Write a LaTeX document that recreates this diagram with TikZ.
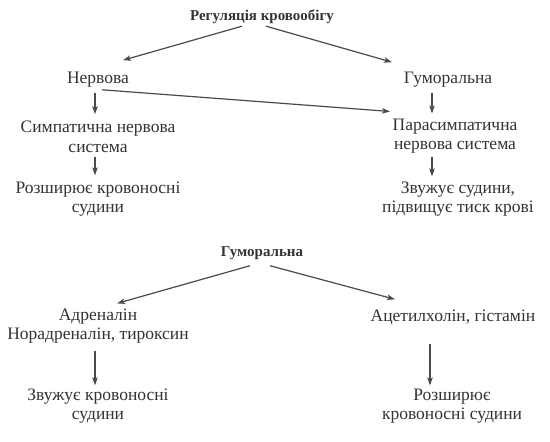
\documentclass[tikz,border=0pt]{standalone}
\usepackage{fontspec}
\setmainfont{Liberation Serif}
\usetikzlibrary{arrows.meta}
\definecolor{ink}{HTML}{333333}
\definecolor{lineink}{HTML}{4A4A4A}
\begin{document}
\begin{tikzpicture}[x=1pt,y=-1pt,
  txt/.style={text=ink,align=center,inner sep=1pt,font=\fontsize{17.5}{19.5}\selectfont},
  bld/.style={txt,font=\fontsize{15}{18}\selectfont\bfseries},
  arr/.style={draw=lineink,line width=1.2pt,-{Stealth[length=8pt,width=5.5pt,inset=2pt]}}]
\fill[white] (0,0) rectangle (550,442);
\useasboundingbox (0,0) rectangle (550,442);
\node[bld] (title) at (262,17) {Регуляція кровообігу};
\node[txt] (nerv) at (98,80) {Нервова};
\node[txt] (hum) at (448,80) {Гуморальна};
\node[txt] (symp) at (98,137) {Симпатична нервова\\система};
\node[txt] (para) at (455,136) {Парасимпатична\\нервова система};
\node[txt] (rozsh) at (98,199) {Розширює кровоносні\\судини};
\node[txt] (zvuzh) at (458,199) {Звужує судини,\\підвищує тиск крові};
\node[bld] (hum2) at (262,253) {Гуморальна};
\node[txt] (adr) at (98,326) {Адреналін\\Норадреналін, тироксин};
\node[txt] (acet) at (453,317) {Ацетилхолін, гістамін};
\node[txt] (zvuzh2) at (98,406) {Звужує кровоносні\\судини};
\node[txt] (rozsh2) at (452,406) {Розширює\\кровоносні судини};
% connectors
\draw[arr] ([xshift=-20pt,yshift=-1pt]title.south) -- ([xshift=25pt,yshift=11pt]nerv.north);
\draw[arr] ([xshift=4pt,yshift=-1pt]title.south) -- ([xshift=-56pt,yshift=9pt]hum.north);
\draw[arr] ([xshift=4pt,yshift=-1pt]nerv.south) -- ([xshift=-65pt,yshift=6pt]para.north);
\draw[arr] ([xshift=-3pt,yshift=-4pt]nerv.south) -- ([xshift=-3pt,yshift=6pt]symp.north);
\draw[arr] ([xshift=-16pt,yshift=-4pt]hum.south) -- ([xshift=-23pt,yshift=4pt]para.north);
\draw[arr] ([xshift=-3pt,yshift=-3pt]symp.south) -- ([xshift=-3pt,yshift=5pt]rozsh.north);
\draw[arr] ([xshift=-23pt,yshift=-2pt]para.south) -- ([xshift=-26pt,yshift=4pt]zvuzh.north);
\draw[arr] ([xshift=-12pt,yshift=-5pt]hum2.south) -- ([xshift=19pt,yshift=4pt]adr.north);
\draw[arr] ([xshift=8pt,yshift=-5pt]hum2.south) -- ([xshift=-58pt,yshift=9pt]acet.north);
\draw[arr] ([xshift=-3pt,yshift=-6pt]adr.south) -- ([xshift=-3pt,yshift=2pt]zvuzh2.north);
\draw[arr] ([xshift=-23pt,yshift=-18pt]acet.south) -- ([xshift=-22pt,yshift=2pt]rozsh2.north);
\end{tikzpicture}
\end{document}
